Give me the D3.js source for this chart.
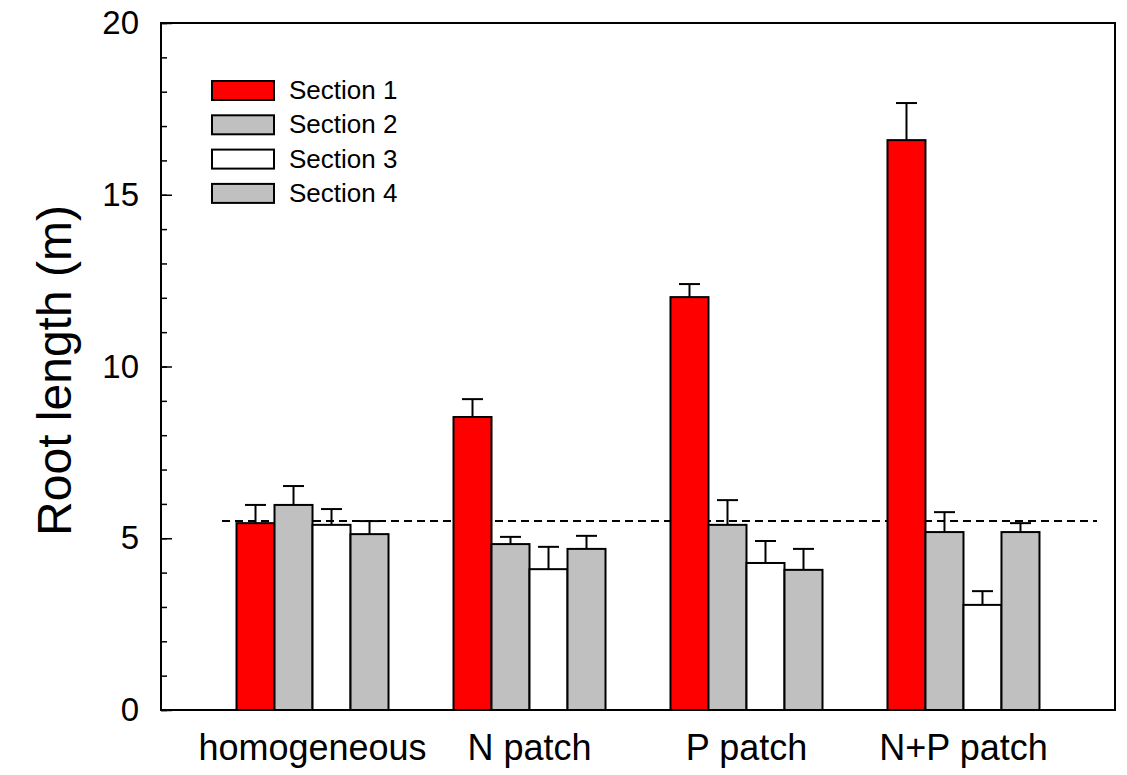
<!DOCTYPE html>
<html lang="en">
<head>
    <meta charset="UTF-8">
    <script src="https://cdn.jsdelivr.net/npm/d3@7"></script>
    <title>Root length</title>
    <style>
        body { margin: 0; background: #fff; }
        text { font-family: Arial, "Liberation Sans", sans-serif; fill: #000; }
        .bar { stroke: #000; stroke-width: 2px; }
        .err { stroke: #000; stroke-width: 2px; }
    </style>
</head>
<body>
<script>
    // data
    const groups = ["homogeneous", "N patch", "P patch", "N+P patch"]
    const sections = ["Section 1", "Section 2", "Section 3", "Section 4"]
    const colors = ["#ff0000", "#c0c0c0", "#ffffff", "#c0c0c0"]
    const means = [
        [5.44, 5.97, 5.39, 5.12],
        [8.53, 4.83, 4.10, 4.69],
        [12.02, 5.39, 4.28, 4.08],
        [16.59, 5.18, 3.06, 5.18]
    ]
    const errs = [
        [0.53, 0.55, 0.46, 0.38],
        [0.52, 0.21, 0.65, 0.38],
        [0.38, 0.72, 0.64, 0.61],
        [1.08, 0.58, 0.40, 0.26]
    ]
    const refValue = 5.5
    const yTicks = [0, 5, 10, 15, 20]

    const width = 1127, height = 775
    const margin = {top: 23, right: 12, bottom: 65, left: 161}

    const svg = d3.select("body").append("svg")
        .attr("width", width)
        .attr("height", height)

    const x = d3.scaleBand()
        .domain(groups)
        .range([margin.left, width - margin.right])
        .paddingInner(0.2995)
        .paddingOuter(0.348)

    const xs = d3.scaleBand()
        .domain(sections)
        .range([0, x.bandwidth()])

    const y = d3.scaleLinear()
        .domain([0, 20])
        .range([height - margin.bottom, margin.top])

    const rows = []
    groups.forEach((g, i) => {
        sections.forEach((s, j) => {
            rows.push({group: g, section: s, value: means[i][j], err: errs[i][j], color: colors[j]})
        })
    })

    // dashed reference line
    svg.append("line")
        .attr("x1", margin.left + 61)
        .attr("x2", width - margin.right - 18)
        .attr("y1", y(refValue))
        .attr("y2", y(refValue))
        .attr("stroke", "#000")
        .attr("stroke-width", 2)
        .attr("stroke-dasharray", "8,5")

    // error bars (drawn under bars so stems start at bar tops)
    const eb = svg.append("g").selectAll("g")
        .data(rows)
        .join("g")
        .attr("class", "err")
    eb.append("line")
        .attr("x1", d => x(d.group) + xs(d.section) + xs.bandwidth() / 2)
        .attr("x2", d => x(d.group) + xs(d.section) + xs.bandwidth() / 2)
        .attr("y1", d => y(d.value))
        .attr("y2", d => y(d.value + d.err))
    eb.append("line")
        .attr("x1", d => x(d.group) + xs(d.section) + xs.bandwidth() / 2 - 10.5)
        .attr("x2", d => x(d.group) + xs(d.section) + xs.bandwidth() / 2 + 10.5)
        .attr("y1", d => y(d.value + d.err))
        .attr("y2", d => y(d.value + d.err))

    svg.append("g").selectAll("rect")
        .data(rows)
        .join("rect")
        .attr("class", "bar")
        .attr("x", d => x(d.group) + xs(d.section))
        .attr("width", xs.bandwidth())
        .attr("y", d => y(d.value))
        .attr("height", d => y(0) - y(d.value))
        .attr("fill", d => d.color)

    // y axis: minor + major inward ticks
    const minor = svg.append("g")
        .attr("transform", `translate(${margin.left},0)`)
        .call(d3.axisLeft(y).ticks(20).tickSize(-6).tickFormat(""))
    minor.select(".domain").remove()
    minor.selectAll("line").attr("stroke-width", 1.5)

    const major = svg.append("g")
        .attr("transform", `translate(${margin.left},0)`)
        .call(d3.axisLeft(y).tickValues(yTicks).tickSize(-11).tickPadding(22))
    major.select(".domain").remove()
    major.selectAll("line").attr("stroke-width", 1.5)
    major.selectAll("text")
        .attr("font-size", "33px")
        .attr("font-family", "Arial, 'Liberation Sans', sans-serif")

    // frame
    svg.append("rect")
        .attr("x", margin.left)
        .attr("y", margin.top)
        .attr("width", width - margin.left - margin.right)
        .attr("height", height - margin.top - margin.bottom)
        .attr("fill", "none")
        .attr("stroke", "#000")
        .attr("stroke-width", 2)

    // x labels
    svg.append("g").selectAll("text")
        .data(groups)
        .join("text")
        .attr("x", d => x(d) + x.bandwidth() / 2)
        .attr("y", 760)
        .attr("text-anchor", "middle")
        .attr("font-size", "36px")
        .text(d => d)

    // y title
    svg.append("text")
        .attr("transform", `translate(71,${(margin.top + height - margin.bottom) / 2 + 4}) rotate(-90)`)
        .attr("text-anchor", "middle")
        .attr("font-size", "48px")
        .text("Root length (m)")

    // legend
    const legend = svg.append("g").selectAll("g")
        .data(sections)
        .join("g")
        .attr("transform", (d, i) => `translate(212,${81 + i * 34.3})`)
    legend.append("rect")
        .attr("width", 62)
        .attr("height", 19)
        .attr("fill", (d, i) => colors[i])
        .attr("stroke", "#000")
        .attr("stroke-width", 2)
    legend.append("text")
        .attr("x", 77)
        .attr("y", 18)
        .attr("font-size", "26px")
        .text(d => d)
</script>
</body>
</html>
